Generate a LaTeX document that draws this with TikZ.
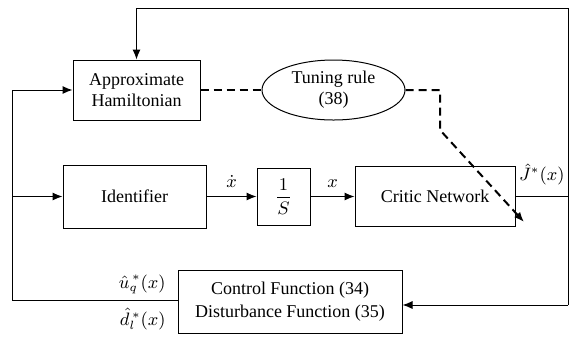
\documentclass[tikz,border=0pt]{standalone}
\usepackage{fontspec}
\usepackage{amsmath}
\newfontfamily\tnr{Liberation Serif}
\usetikzlibrary{shapes.geometric,arrows.meta}

\begin{document}
\begin{tikzpicture}[x=0.5pt,y=-0.5pt,>={Latex[length=5pt,width=4pt]},
    font=\tnr\fontsize{9}{10.5}\selectfont,
    blk/.style={draw,line width=0.5pt,align=center,inner sep=0pt},
    sig/.style={line width=0.5pt},
    tune/.style={line width=1pt,dash pattern=on 4pt off 2.5pt}]
  \useasboundingbox (0,0) rectangle (572,339);

  % blocks
  \node[blk,minimum width=63.5pt,minimum height=30pt] (ham) at (136.5,90) {Approximate\\Hamiltonian};
  \node[blk,ellipse,minimum width=71.5pt,minimum height=30pt] (tun) at (333.5,90) {Tuning rule\\(38)};
  \node[blk,minimum width=71.5pt,minimum height=31.5pt] (ide) at (134.5,196.5) {Identifier};
  \node[blk,minimum width=26.5pt,minimum height=28.5pt] (int) at (283.5,196.5) {$\dfrac{1}{S}$};
  \node[blk,minimum width=80pt,minimum height=30pt] (cri) at (435,196.5) {Critic Network};
  \node[blk,minimum width=112pt,minimum height=31.5pt] (ctl) at (290,301.5)
    {Control Function (34)\\[1pt]Disturbance Function (35)};

  % corners of the feedback paths
  \coordinate (tr) at (568,8);
  \coordinate (tl) at (ham.north |- tr);
  \coordinate (jr) at (568,196.5);
  \coordinate (br) at (568,305);
  \coordinate (lx) at (12,300);
  \coordinate (lt) at (12,90);
  \coordinate (li) at (12,196.5);
  \coordinate (d1) at (440,90);
  \coordinate (d2) at (440,130);
  \coordinate (d3) at (524,222);

  % forward path
  \draw[sig,->] (ide) -- node[above=1pt] {$\dot{x}$} (int);
  \draw[sig,->] (int) -- node[above=1pt] {$x$} (cri);
  \draw[sig] (cri.east |- jr) -- node[above=2pt] {$\hat{J}^{*}(x)$} (jr);

  % critic output back to the Hamiltonian and to the controller
  \draw[sig,->] (br) -- (tr) -- (tl) -- (ham.north);
  \draw[sig,->] (br) -- (ctl.east |- br);

  % controller output back to the left
  \draw[sig,->] (ctl.west |- lx) -- (lx) -- (lt) -- (ham.west);
  \draw[sig,->] (li) -- (ide.west);
  \node[anchor=south east,inner sep=1pt] (ulab) at (168,296) {$\hat{u}_q^{\,*}(x)$};
  \node[anchor=north east,inner sep=1pt] (dlab) at (168,306) {$\hat{d}_l^{\,*}(x)$};

  % tuning of the critic weights
  \draw[tune] (ham) -- (tun);
  \draw[tune,->] (tun) -- (d1) -- (d2) -- (d3);
\end{tikzpicture}
\end{document}
